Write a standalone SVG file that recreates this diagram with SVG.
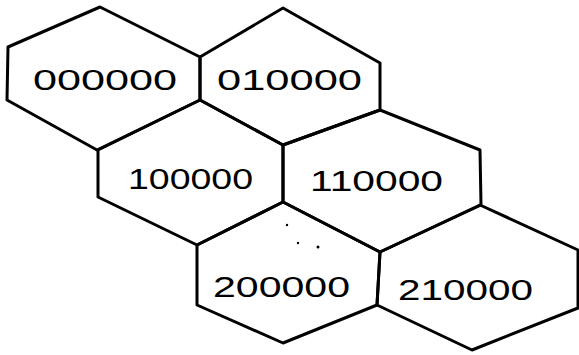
<svg xmlns="http://www.w3.org/2000/svg" width="579" height="355" viewBox="0 0 579 355">
<style>
.hex{fill:none;stroke:#000;stroke-width:3;stroke-linejoin:round;stroke-linecap:round}
.lbl{font-family:"Liberation Sans",Arial,sans-serif;font-size:29px;fill:#000}
</style>
<rect width="579" height="355" fill="#fff"/>
<g id="hex-000000">
<polygon class="hex" points="100,7 200,57 200,100 97,150 7,100 8,47"/>
<text class="lbl" x="33" y="90" textLength="144" lengthAdjust="spacingAndGlyphs">000000</text>
</g>
<g id="hex-010000">
<polygon class="hex" points="283,8 380,63 380,110 283,145 200,100 200,57"/>
<text class="lbl" x="217" y="90" textLength="145" lengthAdjust="spacingAndGlyphs">010000</text>
</g>
<g id="hex-100000">
<polygon class="hex" points="200,100 283,145 283,202 197,245 98,197 98,150"/>
<text class="lbl" x="128" y="189" textLength="125" lengthAdjust="spacingAndGlyphs">100000</text>
</g>
<g id="hex-110000">
<polygon class="hex" points="380,110 480,150 481,205 380,252 283,202 283,145"/>
<text class="lbl" x="310" y="191" textLength="133" lengthAdjust="spacingAndGlyphs">110000</text>
</g>
<g id="hex-200000">
<polygon class="hex" points="283,202 380,252 377,305 283,343 197,305 197,245"/>
<text class="lbl" x="213" y="297" textLength="137" lengthAdjust="spacingAndGlyphs">200000</text>
<circle cx="287" cy="225" r="1.2" fill="#000"/>
<circle cx="298" cy="243" r="1.2" fill="#000"/>
<circle cx="318" cy="247" r="1.5" fill="#000"/>
</g>
<g id="hex-210000">
<polygon class="hex" points="480,205 578,250 578,308 472,350 377,305 380,252"/>
<text class="lbl" x="398" y="300" textLength="135" lengthAdjust="spacingAndGlyphs">210000</text>
</g>
</svg>
